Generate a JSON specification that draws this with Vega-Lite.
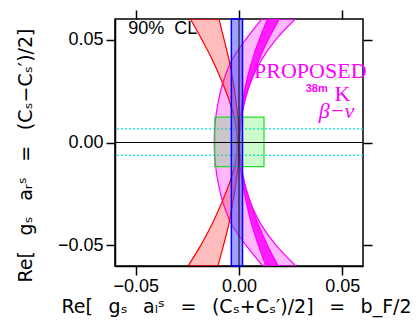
{
  "$schema": "https://vega.github.io/schema/vega-lite/v6.json",
  "autosize": "none",
  "width": 248,
  "height": 247,
  "padding": {"left": 115, "top": 19, "right": 57, "bottom": 56},
  "background": "white",
  "config": {
    "view": {"stroke": "black", "strokeWidth": 1.5},
    "axis": {
      "grid": false,
      "domainColor": "black",
      "domainWidth": 1.5,
      "tickColor": "black",
      "tickWidth": 1.5,
      "tickSize": 9,
      "labelFont": "Liberation Sans",
      "labelFontSize": 18,
      "labelColor": "black",
      "titleFont": "DejaVu Sans",
      "titleFontSize": 19,
      "titleFontWeight": "normal",
      "titleColor": "black"
    }
  },
  "datasets": {
    "red": [
      {"y": 0.06, "lo": -0.0235, "hi": -0.0097},
      {"y": 0.05, "lo": -0.018, "hi": -0.0072},
      {"y": 0.04, "lo": -0.0128, "hi": -0.0048},
      {"y": 0.03, "lo": -0.0084, "hi": -0.0029},
      {"y": 0.02, "lo": -0.0046, "hi": -0.0014},
      {"y": 0.01, "lo": -0.0018, "hi": -0.0004},
      {"y": 0.0, "lo": -0.0008, "hi": 0.0},
      {"y": -0.01, "lo": -0.0018, "hi": -0.0004},
      {"y": -0.02, "lo": -0.0047, "hi": -0.0015},
      {"y": -0.03, "lo": -0.0087, "hi": -0.0031},
      {"y": -0.04, "lo": -0.0132, "hi": -0.005},
      {"y": -0.05, "lo": -0.0185, "hi": -0.0075},
      {"y": -0.06, "lo": -0.0247, "hi": -0.0102}
    ],
    "mag": [
      {"y": 0.06, "lo": 0.011, "hi": 0.0272},
      {"y": 0.05, "lo": 0.0032, "hi": 0.0178},
      {"y": 0.04, "lo": -0.0035, "hi": 0.0108},
      {"y": 0.03, "lo": -0.0075, "hi": 0.0059},
      {"y": 0.02, "lo": -0.01, "hi": 0.0026},
      {"y": 0.01, "lo": -0.0115, "hi": 0.0006},
      {"y": 0.0, "lo": -0.012, "hi": 0.0},
      {"y": -0.01, "lo": -0.0115, "hi": 0.0006},
      {"y": -0.02, "lo": -0.01, "hi": 0.0026},
      {"y": -0.03, "lo": -0.0075, "hi": 0.0059},
      {"y": -0.04, "lo": -0.0035, "hi": 0.0108},
      {"y": -0.05, "lo": 0.0034, "hi": 0.018},
      {"y": -0.06, "lo": 0.0115, "hi": 0.0275}
    ],
    "thick": [
      {"y": 0.06, "lo": 0.0138, "hi": 0.0195},
      {"y": 0.05, "lo": 0.0098, "hi": 0.0142},
      {"y": 0.04, "lo": 0.0064, "hi": 0.0096},
      {"y": 0.03, "lo": 0.0037, "hi": 0.0058},
      {"y": 0.02, "lo": 0.0017, "hi": 0.0028},
      {"y": 0.01, "lo": 0.0005, "hi": 0.001},
      {"y": 0.0, "lo": 0.0, "hi": 0.0003},
      {"y": -0.01, "lo": 0.0005, "hi": 0.001},
      {"y": -0.02, "lo": 0.0017, "hi": 0.0028},
      {"y": -0.03, "lo": 0.0037, "hi": 0.0058},
      {"y": -0.04, "lo": 0.0062, "hi": 0.0094},
      {"y": -0.05, "lo": 0.0094, "hi": 0.0138},
      {"y": -0.06, "lo": 0.013, "hi": 0.019}
    ],
    "blue": [{"x": -0.0037, "x2": 0.0017, "y": -0.06, "y2": 0.06}],
    "green": [{"x": -0.0117, "x2": 0.0121, "y": -0.0117, "y2": 0.0123}],
    "cyan": [{"y": 0.0066}, {"y": -0.0063}],
    "zeroh": [{"y": 0}],
    "zerov": [{"x": 0}],
    "cl": [{"x": -0.0536, "y": 0.0525, "label": "90%\u00a0\u00a0CL"}],
    "proposed": [{"x": 0.0345, "y": 0.0314, "label": "PROPOSED"}],
    "iso": [{"x": 0.0323, "y": 0.0243, "label": "38m"}],
    "kel": [{"x": 0.0462, "y": 0.0204, "label": "K"}],
    "beta": [{"x": 0.0386, "y": 0.0119, "label": "β−ν"}]
  },
  "resolve": {"axis": {"x": "independent", "y": "independent"}},
  "layer": [
    {
      "data": {"name": "cyan"},
      "mark": {"type": "rule", "color": "#00e8e8", "strokeWidth": 1.2, "strokeDash": [2, 2]},
      "encoding": {
        "y": {"field": "y", "type": "quantitative",
          "scale": {"domain": [-0.06, 0.06], "nice": false, "zero": false},
          "axis": {"orient": "left", "values": [-0.05, 0, 0.05], "format": ".2f", "labelPadding": 3,
            "title": "Re[ \u2002gₛ \u2002aᵣˢ \u2002= \u2002(Cₛ−Cₛ′)/2]", "titleAngle": -90, "titleX": -84, "titleY": 136,
            "titleAlign": "center", "titleBaseline": "alphabetic"}}
      }
    },
    {
      "data": {"name": "mag"},
      "mark": {"type": "area", "orient": "horizontal", "interpolate": "monotone", "clip": true,
        "fill": "#ff00ff", "fillOpacity": 0.28, "stroke": "#ff00ff", "strokeWidth": 1.2},
      "encoding": {
        "y": {"field": "y", "type": "quantitative", "scale": {"domain": [-0.06, 0.06], "nice": false, "zero": false}, "axis": null},
        "x": {"field": "lo", "type": "quantitative", "stack": null, "scale": {"domain": [-0.06, 0.06], "nice": false, "zero": false},
          "axis": {"orient": "bottom", "values": [-0.05, 0, 0.05], "format": ".2f", "labelPadding": 2,
            "title": "Re[ \u2002gₛ \u2002aₗˢ \u2002= \u2002(Cₛ+Cₛ′)/2] \u2002= \u2002b_F/2", "titleX": 121, "titleY": 46,
            "titleAlign": "center", "titleBaseline": "alphabetic"}},
        "x2": {"field": "hi"}
      }
    },
    {
      "data": {"name": "thick"},
      "mark": {"type": "area", "orient": "horizontal", "interpolate": "monotone", "clip": true,
        "fill": "#ff00ff", "fillOpacity": 0.85, "stroke": "#ff00ff", "strokeWidth": 1.2},
      "encoding": {
        "y": {"field": "y", "type": "quantitative", "scale": {"domain": [-0.06, 0.06], "nice": false, "zero": false}, "axis": null},
        "x": {"field": "lo", "type": "quantitative", "stack": null, "scale": {"domain": [-0.06, 0.06], "nice": false, "zero": false}, "axis": null},
        "x2": {"field": "hi"}
      }
    },
    {
      "data": {"name": "red"},
      "mark": {"type": "area", "orient": "horizontal", "interpolate": "monotone", "clip": true,
        "fill": "#ff2020", "fillOpacity": 0.3, "stroke": "#ff0000", "strokeWidth": 1.2},
      "encoding": {
        "y": {"field": "y", "type": "quantitative", "scale": {"domain": [-0.06, 0.06], "nice": false, "zero": false}, "axis": null},
        "x": {"field": "lo", "type": "quantitative", "stack": null, "scale": {"domain": [-0.06, 0.06], "nice": false, "zero": false}, "axis": null},
        "x2": {"field": "hi"}
      }
    },
    {
      "data": {"name": "green"},
      "mark": {"type": "rect", "fill": "#33ee33", "fillOpacity": 0.25, "stroke": "#22dd22", "strokeWidth": 1.2},
      "encoding": {
        "x": {"field": "x", "type": "quantitative", "scale": {"domain": [-0.06, 0.06], "nice": false, "zero": false}, "axis": null},
        "x2": {"field": "x2"},
        "y": {"field": "y", "type": "quantitative", "scale": {"domain": [-0.06, 0.06], "nice": false, "zero": false}, "axis": null},
        "y2": {"field": "y2"}
      }
    },
    {
      "data": {"name": "blue"},
      "mark": {"type": "rect", "fill": "#5050ff", "fillOpacity": 0.55, "stroke": "#0000ff", "strokeWidth": 1.5},
      "encoding": {
        "x": {"field": "x", "type": "quantitative", "scale": {"domain": [-0.06, 0.06], "nice": false, "zero": false}, "axis": null},
        "x2": {"field": "x2"},
        "y": {"field": "y", "type": "quantitative", "scale": {"domain": [-0.06, 0.06], "nice": false, "zero": false}, "axis": null},
        "y2": {"field": "y2"}
      }
    },
    {
      "data": {"name": "zeroh"},
      "mark": {"type": "rule", "color": "black", "strokeWidth": 1},
      "encoding": {
        "y": {"field": "y", "type": "quantitative", "scale": {"domain": [-0.06, 0.06], "nice": false, "zero": false},
          "axis": {"orient": "right", "values": [-0.05, 0, 0.05], "labels": false, "title": null, "domain": false}}
      }
    },
    {
      "data": {"name": "zerov"},
      "mark": {"type": "rule", "color": "black", "strokeWidth": 1},
      "encoding": {
        "x": {"field": "x", "type": "quantitative", "scale": {"domain": [-0.06, 0.06], "nice": false, "zero": false},
          "axis": {"orient": "top", "values": [-0.05, 0, 0.05], "labels": false, "title": null, "domain": false}}
      }
    },
    {
      "data": {"name": "cl"},
      "mark": {"type": "text", "font": "Liberation Sans", "fontSize": 18, "color": "black", "align": "left", "baseline": "alphabetic"},
      "encoding": {
        "x": {"field": "x", "type": "quantitative", "scale": {"domain": [-0.06, 0.06], "nice": false, "zero": false}, "axis": null},
        "y": {"field": "y", "type": "quantitative", "scale": {"domain": [-0.06, 0.06], "nice": false, "zero": false}, "axis": null},
        "text": {"field": "label"}
      }
    },
    {
      "data": {"name": "proposed"},
      "mark": {"type": "text", "font": "Liberation Serif", "fontSize": 22, "color": "#ff00ff", "align": "center", "baseline": "alphabetic"},
      "encoding": {
        "x": {"field": "x", "type": "quantitative", "scale": {"domain": [-0.06, 0.06], "nice": false, "zero": false}, "axis": null},
        "y": {"field": "y", "type": "quantitative", "scale": {"domain": [-0.06, 0.06], "nice": false, "zero": false}, "axis": null},
        "text": {"field": "label"}
      }
    },
    {
      "data": {"name": "iso"},
      "mark": {"type": "text", "font": "Liberation Sans", "fontSize": 11, "fontWeight": "bold", "color": "#ff00ff", "align": "left", "baseline": "alphabetic"},
      "encoding": {
        "x": {"field": "x", "type": "quantitative", "scale": {"domain": [-0.06, 0.06], "nice": false, "zero": false}, "axis": null},
        "y": {"field": "y", "type": "quantitative", "scale": {"domain": [-0.06, 0.06], "nice": false, "zero": false}, "axis": null},
        "text": {"field": "label"}
      }
    },
    {
      "data": {"name": "kel"},
      "mark": {"type": "text", "font": "Liberation Serif", "fontSize": 22, "color": "#ff00ff", "align": "left", "baseline": "alphabetic"},
      "encoding": {
        "x": {"field": "x", "type": "quantitative", "scale": {"domain": [-0.06, 0.06], "nice": false, "zero": false}, "axis": null},
        "y": {"field": "y", "type": "quantitative", "scale": {"domain": [-0.06, 0.06], "nice": false, "zero": false}, "axis": null},
        "text": {"field": "label"}
      }
    },
    {
      "data": {"name": "beta"},
      "mark": {"type": "text", "font": "Liberation Serif", "fontSize": 22, "fontStyle": "italic", "color": "#ff00ff", "align": "left", "baseline": "alphabetic"},
      "encoding": {
        "x": {"field": "x", "type": "quantitative", "scale": {"domain": [-0.06, 0.06], "nice": false, "zero": false}, "axis": null},
        "y": {"field": "y", "type": "quantitative", "scale": {"domain": [-0.06, 0.06], "nice": false, "zero": false}, "axis": null},
        "text": {"field": "label"}
      }
    }
  ]
}
